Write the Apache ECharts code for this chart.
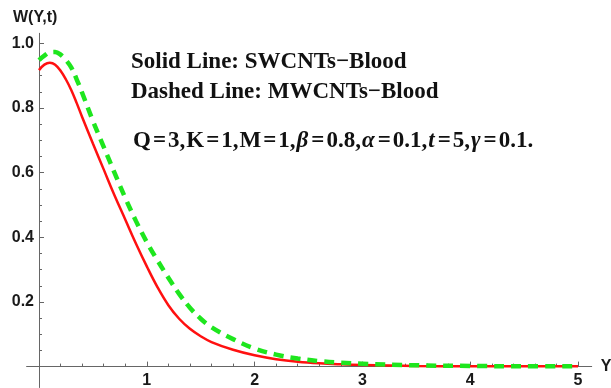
<!DOCTYPE html>
<html>
<head>
<meta charset="utf-8">
<script src="https://cdn.jsdelivr.net/npm/echarts@6/dist/echarts.min.js"></script>
<style>
  html, body { margin: 0; padding: 0; background: #fff; }
  #chart { width: 611px; height: 388px; }
</style>
</head>
<body>
<div id="chart"></div>
<script>
// Y positions sampled along the axis, shared by both curves
const yPos = [0, 0.05, 0.1, 0.15, 0.2, 0.25, 0.3, 0.35, 0.4, 0.5, 0.6, 0.7, 0.8, 0.9, 1.0,
  1.1, 1.2, 1.3, 1.4, 1.5, 1.6, 1.8, 2.0, 2.2, 2.4, 2.6, 2.8, 3.0, 3.5, 4.0, 4.5, 5.0];

const swcntBlood = [0.917, 0.934, 0.940, 0.934, 0.915, 0.888, 0.855, 0.815, 0.772, 0.690, 0.610,
  0.530, 0.455, 0.380, 0.310, 0.245, 0.190, 0.148, 0.117, 0.094, 0.076, 0.052, 0.035, 0.023,
  0.015, 0.010, 0.007, 0.005, 0.002, 0.001, 0.001, 0.001];

const mwcntBlood = [0.948, 0.962, 0.972, 0.973, 0.965, 0.948, 0.925, 0.888, 0.847, 0.760, 0.680,
  0.600, 0.522, 0.450, 0.385, 0.328, 0.275, 0.225, 0.182, 0.148, 0.122, 0.085, 0.056, 0.037,
  0.025, 0.017, 0.012, 0.009, 0.004, 0.002, 0.001, 0.001];

// tick ranges of the plot and the slightly longer axis lines drawn by Mathematica
const xTicks = { min: 0, max: 5, interval: 1, minor: 5 };
const yTicks = { min: 0, max: 1, interval: 0.2, minor: 4 };
const xLine = [-0.115, 5.127];
const yLine = [-0.065, 1.031];

const AXIS_COLOR = "#666";
const LABEL_FONT = { color: "#1a1a1a", fontFamily: "Liberation Sans", fontWeight: "bold", fontSize: 16 };
const NOTE_FONT = { color: "#111", fontFamily: "Liberation Serif", fontWeight: "bold", fontSize: 23 };

const pairs = (vals) => yPos.map((y, i) => [y, vals[i]]);

const tickAxis = (t, fmt, margin) => ({
  type: "value",
  gridIndex: 0,
  min: t.min,
  max: t.max,
  interval: t.interval,
  splitLine: { show: false },
  axisLine: { show: false, onZero: false },
  axisTick: { inside: true, length: 5, lineStyle: { color: AXIS_COLOR } },
  minorTick: { show: true, splitNumber: t.minor, length: 3, lineStyle: { color: AXIS_COLOR } },
  axisLabel: { margin, formatter: (v) => (Math.abs(v) < 1e-9 ? "" : fmt(v)), ...LABEL_FONT },
});

const lineAxis = (range, name) => ({
  type: "value",
  gridIndex: 1,
  min: range[0],
  max: range[1],
  name,
  nameLocation: "end",
  nameGap: 9,
  nameTextStyle: { ...LABEL_FONT, padding: [0, 0, 3, 0] },
  splitLine: { show: false },
  axisLine: { onZero: true, lineStyle: { color: AXIS_COLOR, width: 1 } },
  axisTick: { show: false },
  axisLabel: { show: false },
});

// Mathematica spaces "=" and commas a little wider than plain text
const EQ = { ...NOTE_FONT, padding: [0, 2, 0, 2] };
const IT = { ...NOTE_FONT, fontStyle: "italic", padding: [0, 1, 0, 0] };
const CM = { ...NOTE_FONT, padding: [0, 1, 0, 0] };

const chart = echarts.init(document.getElementById("chart"), null, { renderer: "canvas" });

chart.setOption({
  animation: false,
  backgroundColor: "#fff",
  grid: [
    { left: 39, right: 33, top: 43.3, bottom: 21.4, outerBoundsMode: "none" },
    { left: 26.6, right: 19.3, top: 33.3, bottom: 0.5, outerBoundsMode: "none" },
  ],
  title: [
    // vertical axis name sits left of the axis top, as Mathematica puts it
    { text: "W(Y,t)", left: 13, top: 10, padding: 0, textStyle: LABEL_FONT },
    { text: "Solid Line: SWCNTs\u2212Blood", left: 131, top: 51, padding: 0, textStyle: NOTE_FONT },
    { text: "Dashed Line: MWCNTs\u2212Blood", left: 131, top: 81, padding: 0, textStyle: NOTE_FONT },
    {
      text: "Q{e|=}3{c|,}K{e|=}1{c|,}M{e|=}1{c|,}{i|\u03b2}{e|=}0.8{c|,}{i|\u03b1}{e|=}0.1{c|,}" +
        "{i|t}{e|=}5{c|,}{i|\u03b3}{e|=}0.1.",
      left: 133, top: 130, padding: 0,
      textStyle: { ...NOTE_FONT, rich: { e: EQ, i: IT, c: CM } },
    },
  ],
  xAxis: [
    tickAxis(xTicks, (v) => String(Math.round(v)), 6),
    lineAxis(xLine, "Y"),
  ],
  yAxis: [
    tickAxis(yTicks, (v) => v.toFixed(1), 5),
    lineAxis(yLine, ""),
  ],
  series: [
    {
      name: "SWCNTs-Blood",
      type: "line",
      data: pairs(swcntBlood),
      smooth: 0.4,
      showSymbol: false,
      clip: false,
      lineStyle: { color: "#ff1010", width: 2.5 },
      z: 3,
    },
    {
      name: "MWCNTs-Blood",
      type: "line",
      data: pairs(mwcntBlood),
      smooth: 0.4,
      showSymbol: false,
      clip: false,
      lineStyle: { color: "#1ee61e", width: 4.5, type: [10, 7], cap: "butt" },
      z: 4,
    },
  ],
});
</script>
</body>
</html>
